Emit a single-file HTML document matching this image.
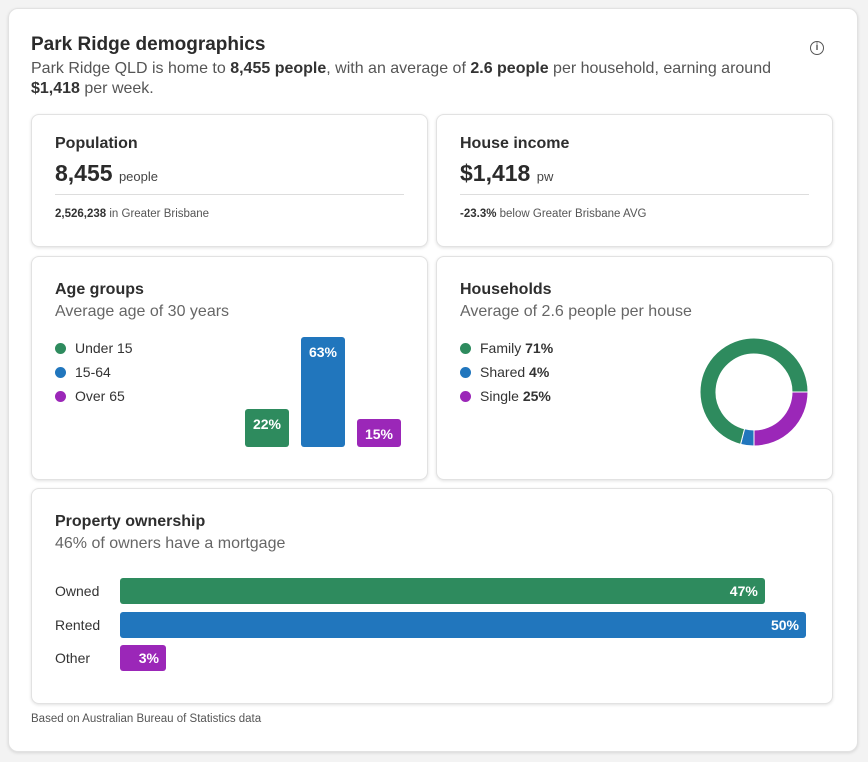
<!DOCTYPE html>
<html><head><meta charset="utf-8"><style>
*{box-sizing:border-box;margin:0;padding:0}
body{width:868px;height:762px;background:#f3f3f3;font-family:"Liberation Sans",sans-serif;color:#2b2b2b;position:relative;overflow:hidden}
.abs{position:absolute}
.card{position:absolute;background:#fff;border:1px solid #e2e2e2;border-radius:8px;box-shadow:0 1px 3px rgba(0,0,0,.12)}
.h{position:absolute;font-size:16px;font-weight:bold;color:#2e2e2e;white-space:nowrap}
.sub{position:absolute;font-size:16px;color:#666;white-space:nowrap}
.leg{position:absolute;font-size:14px;color:#333;white-space:nowrap}
.dot{display:inline-block;width:11px;height:11px;border-radius:50%;margin-right:9px;vertical-align:-1px}
</style></head><body>
<div class="card" style="left:8px;top:8px;width:850px;height:744px;border-radius:10px"></div>
<div class="abs" style="left:31px;top:34px;font-size:19px;font-weight:bold">Park Ridge demographics</div>
<div class="abs" style="left:810px;top:41px;width:14px;height:14px;border:1.3px solid #555;border-radius:50%;font-size:10px;text-align:center;line-height:12px;color:#555;font-weight:bold">i</div>
<div class="abs" style="left:31px;top:59px;width:780px;font-size:16px;line-height:20px;color:#555">Park Ridge QLD is home to <b style="color:#333">8,455 people</b>, with an average of <b style="color:#333">2.6 people</b> per household, earning around <b style="color:#333">$1,418</b> per week.</div>

<div class="card" style="left:31px;top:114px;width:397px;height:133px"></div>
<div class="h" style="left:55px;top:135px">Population</div>
<div class="abs" style="left:55px;top:160px;font-size:23px;font-weight:bold;white-space:nowrap">8,455 <span style="font-size:13px;font-weight:normal;color:#444">people</span></div>
<div class="abs" style="left:55px;top:194px;width:349px;height:1px;background:#ddd"></div>
<div class="abs" style="left:55px;top:208px;font-size:11.5px;color:#555;white-space:nowrap"><b style="color:#333">2,526,238</b> in Greater Brisbane</div>

<div class="card" style="left:436px;top:114px;width:397px;height:133px"></div>
<div class="h" style="left:460px;top:135px">House income</div>
<div class="abs" style="left:460px;top:160px;font-size:23px;font-weight:bold;white-space:nowrap">$1,418 <span style="font-size:13px;font-weight:normal;color:#444">pw</span></div>
<div class="abs" style="left:460px;top:194px;width:349px;height:1px;background:#ddd"></div>
<div class="abs" style="left:460px;top:208px;font-size:11.5px;color:#555;white-space:nowrap"><b style="color:#333">-23.3%</b> below Greater Brisbane AVG</div>

<div class="card" style="left:31px;top:256px;width:397px;height:224px"></div>
<div class="h" style="left:55px;top:281px">Age groups</div>
<div class="sub" style="left:55px;top:303px">Average age of 30 years</div>
<div class="leg" style="left:55px;top:340px"><span class="dot" style="background:#2e8b5e"></span>Under 15</div>
<div class="leg" style="left:55px;top:364px"><span class="dot" style="background:#2176bd"></span>15-64</div>
<div class="leg" style="left:55px;top:388px"><span class="dot" style="background:#9b27b8"></span>Over 65</div>
<div id="agechart"></div>

<div class="card" style="left:436px;top:256px;width:397px;height:224px"></div>
<div class="h" style="left:460px;top:281px">Households</div>
<div class="sub" style="left:460px;top:303px">Average of 2.6 people per house</div>
<div class="leg" style="left:460px;top:340px"><span class="dot" style="background:#2e8b5e"></span>Family <b>71%</b></div>
<div class="leg" style="left:460px;top:364px"><span class="dot" style="background:#2176bd"></span>Shared <b>4%</b></div>
<div class="leg" style="left:460px;top:388px"><span class="dot" style="background:#9b27b8"></span>Single <b>25%</b></div>
<svg class="abs" id="donut" style="left:698px;top:336px" width="112" height="112"></svg>

<div class="card" style="left:31px;top:488px;width:802px;height:216px"></div>
<div class="h" style="left:55px;top:513px">Property ownership</div>
<div class="sub" style="left:55px;top:535px">46% of owners have a mortgage</div>
<div id="propchart"></div>

<div class="abs" style="left:31px;top:713px;font-size:11.5px;color:#555">Based on Australian Bureau of Statistics data</div>

<script>
const ageCategories=["Under 15","15-64","Over 65"];
const ageValues=[22,63,15];
const ageColors=["#2e8b5e","#2176bd","#9b27b8"];
const houseCategories=["Family","Shared","Single"];
const houseValues=[71,4,25];
const propCategories=["Owned","Rented","Other"];
const propValues=[47,50,3];
const propColors=["#2e8b5e","#2176bd","#9b27b8"];

const ageBase=447, ageScale=1.74;
const ay=v=>v*ageScale;
const ac=document.getElementById('agechart');
ageValues.forEach((v,i)=>{
  const h=Math.max(ay(v),28);
  const d=document.createElement('div');
  
  
  d.style.cssText=`position:absolute;left:${245+i*56}px;top:${ageBase-h}px;width:44px;height:${h}px;background:${ageColors[i]};border-radius:3px;color:#fff;font-weight:bold;font-size:14px;text-align:center;padding-top:7px`;
  d.textContent=v+'%';
  ac.appendChild(d);
});

const svg=document.getElementById('donut');
const cx=56,cy=56,R=54,r=38;
const order=[2,1,0];
const total=houseValues.reduce((a,b)=>a+b,0);
let ang=0;
function pt(rad,a){return [cx+rad*Math.cos(a),cy+rad*Math.sin(a)];}
order.forEach(i=>{
  const a0=ang, a1=ang+houseValues[i]/total*2*Math.PI; ang=a1;
  const lg=(a1-a0)>Math.PI?1:0;
  const [x0,y0]=pt(R,a0),[x1,y1]=pt(R,a1),[x2,y2]=pt(r,a1),[x3,y3]=pt(r,a0);
  const p=document.createElementNS('http://www.w3.org/2000/svg','path');
  p.setAttribute('d',`M${x0},${y0}A${R},${R} 0 ${lg} 1 ${x1},${y1}L${x2},${y2}A${r},${r} 0 ${lg} 0 ${x3},${y3}Z`);
  p.setAttribute('fill',ageColors[i]);
  p.setAttribute('stroke','#fff');
  p.setAttribute('stroke-width','1');
  
  
  svg.appendChild(p);
});

const pc=document.getElementById('propchart');
const px=v=>v*13.72;
propValues.forEach((v,i)=>{
  const top=578+i*33.5;
  const l=document.createElement('div');
  
  
  l.style.cssText=`position:absolute;left:55px;top:${top+5}px;font-size:14px;color:#333`;
  l.textContent=propCategories[i];
  pc.appendChild(l);
  const w=Math.max(px(v),46);
  const b=document.createElement('div');
  
  
  b.style.cssText=`position:absolute;left:120px;top:${top}px;width:${w}px;height:26px;background:${propColors[i]};border-radius:3px;color:#fff;font-weight:bold;font-size:14px;text-align:right;padding-right:7px;line-height:26px`;
  b.textContent=v+'%';
  pc.appendChild(b);
});
</script>
</body></html>
